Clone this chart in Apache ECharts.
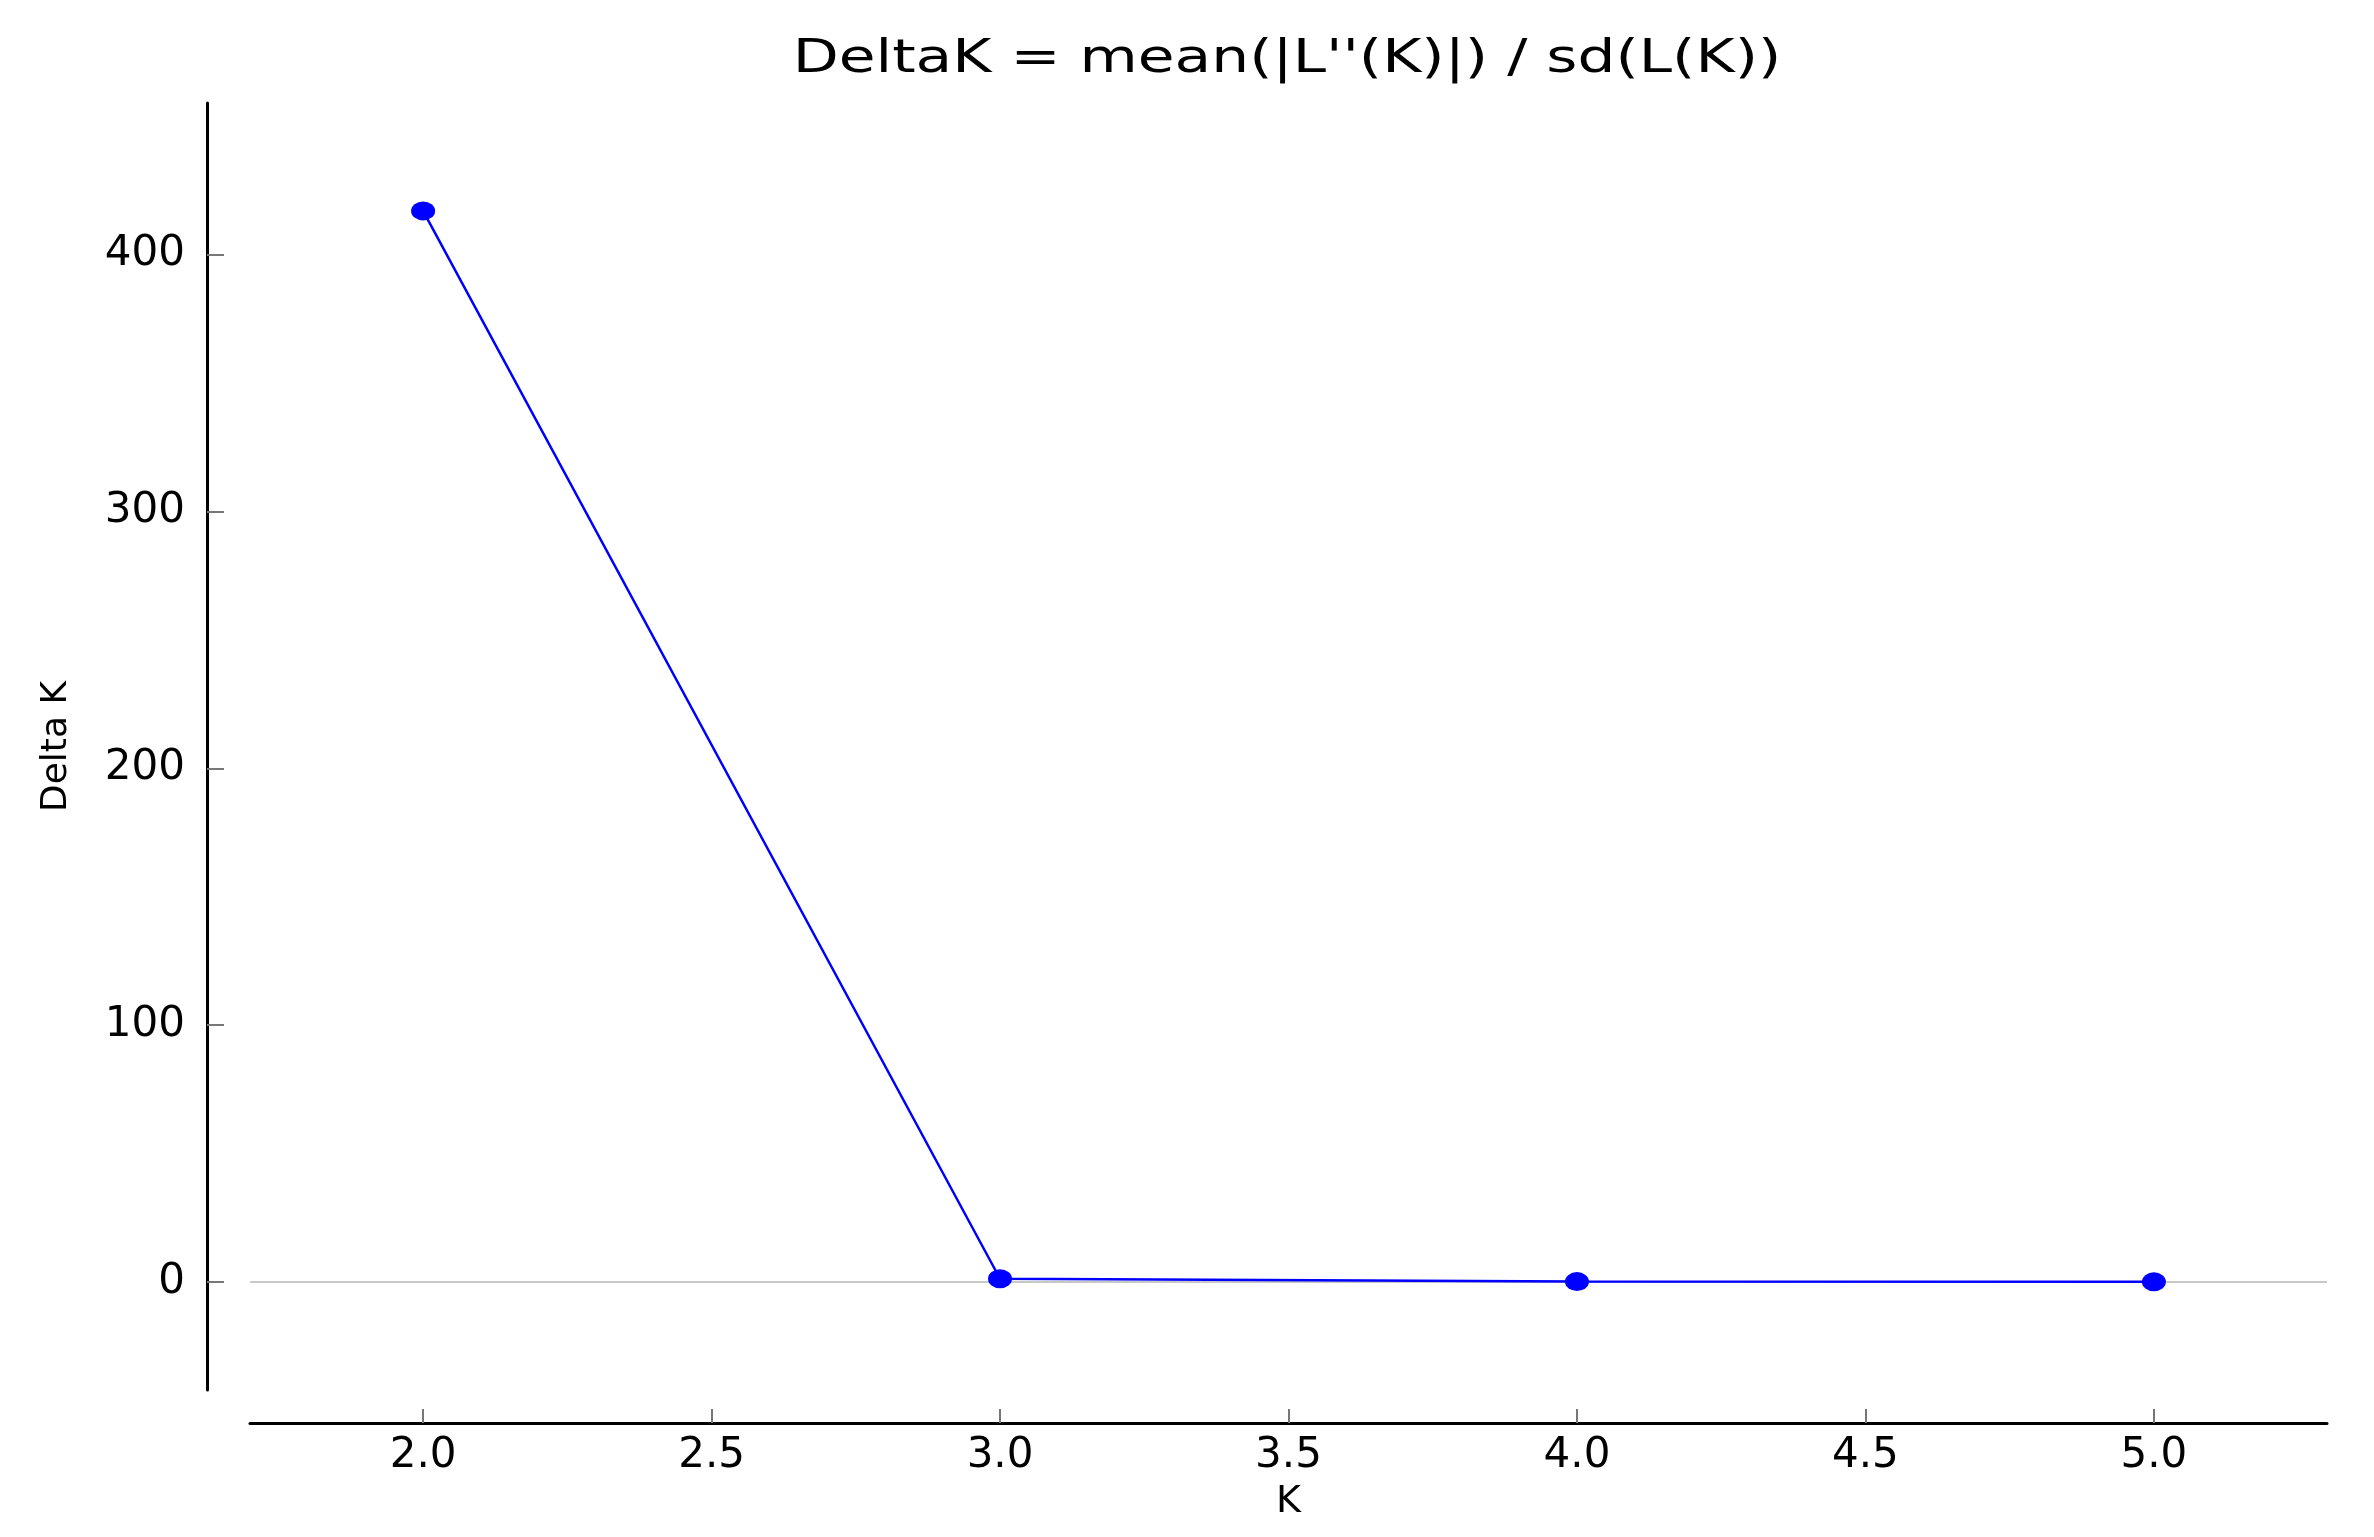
<!DOCTYPE html>
<html>
<head>
<meta charset="utf-8">
<script src="https://cdn.jsdelivr.net/npm/echarts@6/dist/echarts.min.js"></script>
<style>
  html, body { margin: 0; padding: 0; background: #fff; }
  #main { width: 2374px; height: 1537px; }
</style>
</head>
<body>
<div id="main"></div>
<script type="text/javascript">
// values
var kValues = [2, 3, 4, 5];
var deltaK = [417, 1.3, 0.2, 0.1];
var xTicks = [2.0, 2.5, 3.0, 3.5, 4.0, 4.5, 5.0];
var yTicks = [0, 100, 200, 300, 400];
var titleText = "DeltaK = mean(|L''(K)|) / sd(L(K))";

var points = kValues.map(function (k, i) { return [k, deltaK[i]]; });

var myChart = echarts.init(document.getElementById('main'));

var font = 'DejaVu Sans';
var option = {
    backgroundColor: '#ffffff',
    animation: false,
    // title drawn as text, stretched sideways like the original
    graphic: [{
        type: 'text',
        x: 1287,
        y: 60,
        scaleX: 1.3,
        style: {
            text: titleText,
            fontFamily: font, fontSize: 46,
            fill: '#000',
            textAlign: 'center',
            textVerticalAlign: 'middle'
        }
    }],
    grid: { left: 250, right: 47, top: 103, bottom: 147 },
    xAxis: {
        type: 'value',
        min: 1.7,
        max: 5.3,
        offset: 33,
        name: 'K',
        nameLocation: 'middle',
        nameGap: 60,
        nameTextStyle: { fontFamily: font, fontSize: 38, color: '#000' },
        axisLine: { show: true, onZero: false, lineStyle: { color: '#000', width: 3 } },
        axisTick: {
            show: true, inside: true, length: 14,
            customValues: xTicks,
            lineStyle: { color: '#777', width: 2 }
        },
        axisLabel: {
            customValues: xTicks,
            margin: 12,
            fontFamily: font, fontSize: 42, color: '#000',
            formatter: function (v) { return v.toFixed(1); }
        },
        splitLine: { show: false }
    },
    yAxis: {
        type: 'value',
        min: -42,
        max: 459,
        offset: 43,
        name: 'Delta K',
        nameLocation: 'middle',
        nameGap: 132,
        nameTextStyle: { fontFamily: font, fontSize: 36, color: '#000' },
        axisLine: { show: true, onZero: false, lineStyle: { color: '#000', width: 3 } },
        axisTick: {
            show: true, inside: true, length: 17,
            customValues: yTicks,
            lineStyle: { color: '#777', width: 2 }
        },
        axisLabel: {
            customValues: yTicks,
            margin: 22,
            fontFamily: font, fontSize: 42, color: '#000'
        },
        splitLine: { show: false }
    },
    series: [
        {
            name: 'DeltaK',
            type: 'line',
            data: points,
            symbol: 'circle',
            symbolSize: [24, 19],
            itemStyle: { color: '#0000ff' },
            lineStyle: { color: '#0000ff', width: 2.5 },
            markLine: {
                silent: true,
                symbol: 'none',
                label: { show: false },
                lineStyle: { color: '#c8c8c8', width: 2, type: 'solid' },
                data: [{ yAxis: 0 }],
                z: 1
            },
            z: 3
        }
    ]
};

myChart.setOption(option);
</script>
</body>
</html>
